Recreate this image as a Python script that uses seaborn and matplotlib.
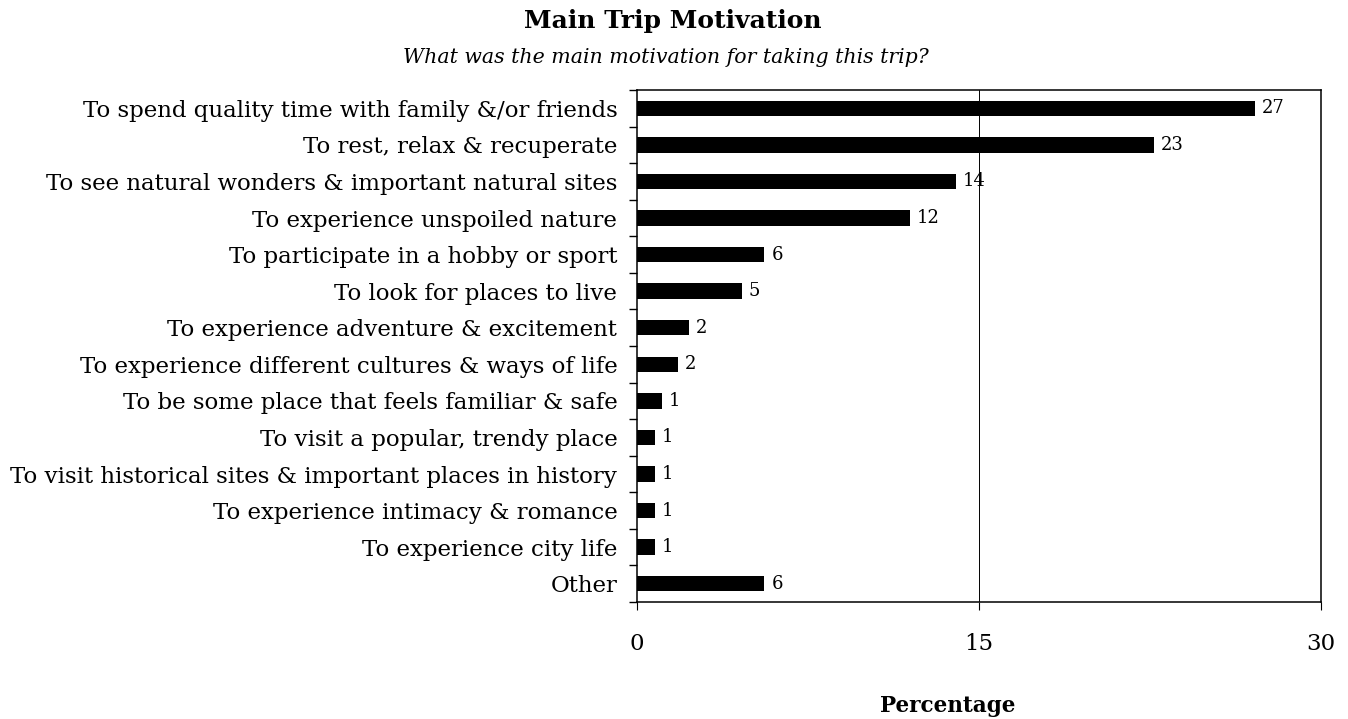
import matplotlib
matplotlib.use("Agg")
import matplotlib.pyplot as plt
import seaborn as sns
import pandas as pd
import numpy as np

categories = [
    "To spend quality time with family &/or friends",
    "To rest, relax & recuperate",
    "To see natural wonders & important natural sites",
    "To experience unspoiled nature",
    "To participate in a hobby or sport",
    "To look for places to live",
    "To experience adventure & excitement",
    "To experience different cultures & ways of life",
    "To be some place that feels familiar & safe",
    "To visit a popular, trendy place",
    "To visit historical sites & important places in history",
    "To experience intimacy & romance",
    "To experience city life",
    "Other",
]
values = [27.1, 22.7, 14.0, 12.0, 5.6, 4.6, 2.3, 1.8, 1.1, 0.8, 0.8, 0.8, 0.8, 5.6]
value_labels = ["27", "23", "14", "12", "6", "5", "2", "2", "1", "1", "1", "1", "1", "6"]
x_ticks = [0, 15, 30]

sns.set_theme(style="white")
plt.rcParams["font.family"] = ["DejaVu Serif"]
plt.rcParams["text.color"] = "black"
plt.rcParams["xtick.color"] = "black"
plt.rcParams["ytick.color"] = "black"
plt.rcParams["xtick.labelcolor"] = "black"
plt.rcParams["ytick.labelcolor"] = "black"

df = pd.DataFrame({"category": categories, "value": values})

fig = plt.figure(figsize=(13.48, 7.19), dpi=100)
ax = fig.add_axes([636.7 / 1348, 1 - 602 / 719, (1320.7 - 636.7) / 1348, (602 - 90) / 719])

sns.barplot(data=df, x="value", y="category", orient="h", color="black",
            width=0.42, saturation=1, ax=ax, edgecolor="black", linewidth=0)

ax.set_xlim(0, 30)
ax.set_ylim(len(categories) - 0.5, -0.5)
ax.set_xticks(x_ticks)
ax.set_xticklabels([str(t) for t in x_ticks], fontsize=16.5, color="black")
ax.axvline(15, color="black", linewidth=0.7, zorder=0)

ax.set_yticks(range(len(categories)))
ax.set_yticklabels(categories, fontsize=16.5, color="black")
ax.set_yticks(np.arange(-0.5, len(categories), 1.0), minor=True)
ax.tick_params(axis="y", which="major", length=0, pad=14)
ax.tick_params(axis="y", which="minor", length=6, width=1.0, direction="out", color="black", left=True)
ax.tick_params(axis="x", which="major", length=6, width=0.8, direction="out", color="black",
               bottom=True, pad=16)
ax.set_xlabel("")
ax.set_ylabel("")

for s in ax.spines.values():
    s.set_visible(True)
    s.set_color("black")
    s.set_linewidth(1.1)

ax.bar_label(ax.containers[0], labels=value_labels, padding=5, fontsize=13, color="black")

fig.text(673 / 1348, 1 - 28 / 719, "Main Trip Motivation", ha="center", va="baseline",
         fontsize=18, fontweight="bold", color="black")
fig.text(666 / 1348, 1 - 63 / 719, "What was the main motivation for taking this trip?",
         ha="center", va="baseline", fontsize=14.8, fontstyle="italic", color="black")
fig.text(948 / 1348, 1 - 712 / 719, "Percentage", ha="center", va="baseline",
         fontsize=15.5, fontweight="bold", color="black")

fig.savefig("out.png", dpi=100, facecolor="white")
